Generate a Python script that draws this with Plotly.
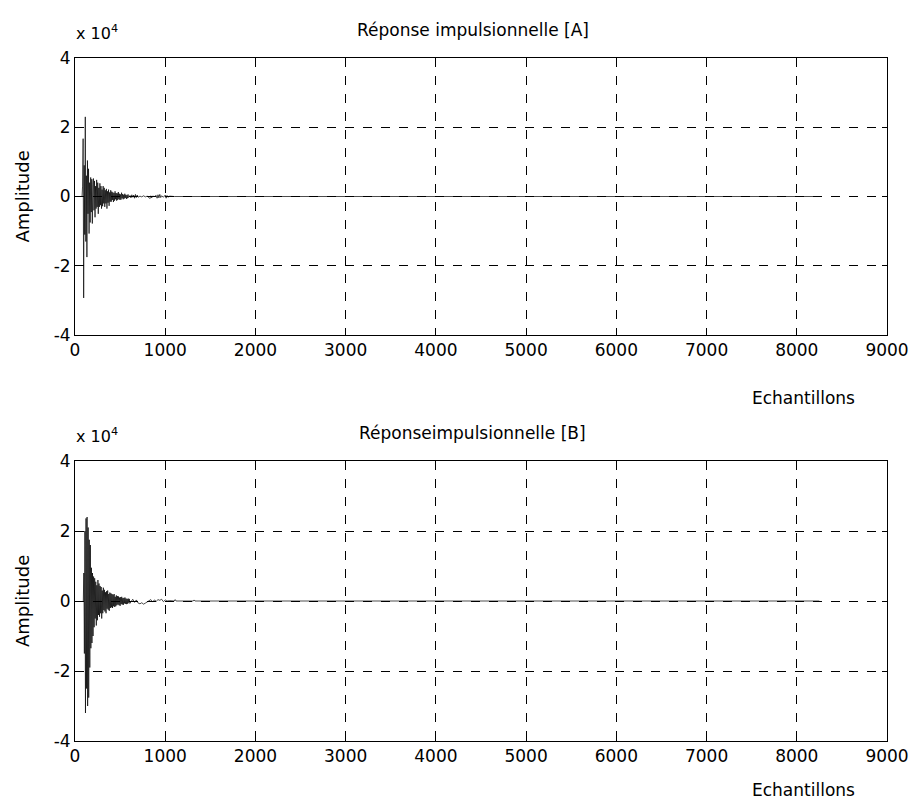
import plotly.graph_objects as go

# ---------------- data (amplitudes in units of 1e4) ----------------
SCALE = 1e4

# Response A: dense part, one value every A_STEP samples starting at A_START
A_START = 78
A_STEP = 6
a_head = [
    0, 0.3, 1.67, -2.93, 0.9, -1.1, 2.3, -1.3, 0.6, -1.75, 1.04, -0.5, 0.8, -1.07,
    0.4, -0.75, 0.55, -0.45, 0.5, -0.78, 0.35,
    0.52, -0.4, 0.45, -0.6, 0.3, -0.35, 0.48, -0.3, 0.4, -0.5, 0.25, -0.3, 0.38,
    -0.25, 0.3, -0.35, 0.2, -0.28, 0.3, -0.2, 0.25, -0.3, 0.18, -0.2, 0.22, -0.35,
    0.15, -0.18, 0.2, -0.27, 0.12, -0.15, 0.18,
    -0.15, 0.14, -0.1, 0.12, -0.16, 0.1, -0.12, 0.15, -0.08, 0.1, -0.12, 0.09, -0.1,
    0.13, -0.07, 0.08, -0.1, 0.06, -0.09, 0.11, -0.05, 0.07, -0.08, 0.05, -0.06,
    0.08, -0.04, 0.05, -0.07, 0.04, -0.05, 0.06, -0.03,
]
a_tail_samples = [610, 620, 630, 640, 650, 660, 670, 680, 690, 700, 720, 740, 760,
                  780, 800, 820, 830, 840, 850, 860, 880, 900, 910, 920, 930, 940,
                  950, 960, 980, 1000, 1010, 1020, 1030, 1050, 1080, 1100, 8260]
a_tail_values = [0.03, -0.04, 0.05, -0.02, 0.04, -0.05, 0.06, -0.03, 0.04, -0.02,
                 0.01, -0.01, 0.02, -0.01, 0.01, -0.03, -0.06, 0.02, -0.04, 0.01,
                 0.0, 0.03, -0.05, 0.05, -0.04, 0.06, -0.03, 0.02, -0.02, 0.04,
                 -0.05, 0.03, -0.02, 0.01, 0.0, 0.0, 0.0]

# Response B
B_START = 92
B_STEP = 6
b_head = [
    0, 0.8, -1.5, 2.0, -3.2, 2.36, -2.5, 2.4, -3.0, 2.1, -2.76, 1.75, -1.9, 1.6,
    -1.35, 0.95, -1.2, 0.8, -1.0, 0.7, -0.75,
    0.65, -0.5, 0.55, -0.7, 0.45, -0.55, 0.6, -0.4, 0.5, -0.45, 0.43, -0.35, 0.4,
    -0.5, 0.3, -0.35, 0.38, -0.26, 0.32, -0.3, 0.25, -0.35, 0.28, -0.22, 0.3, -0.25,
    0.2, -0.28, 0.24, -0.2, 0.22, -0.18, 0.2,
    -0.2, 0.18, -0.15, 0.2, -0.17, 0.12, -0.15, 0.16, -0.12, 0.14, -0.1, 0.13, -0.12,
    0.1, -0.14, 0.11, -0.09, 0.12, -0.1, 0.08, -0.11, 0.09, -0.07, 0.1, -0.08, 0.07,
    -0.09, 0.06, -0.08, 0.07, -0.05, 0.06, -0.07,
]
b_tail_samples = [640, 660, 680, 700, 720, 740, 760, 780, 800, 820, 840, 860, 880,
                  900, 920, 940, 960, 980, 1000, 1020, 1050, 1100, 1110, 1120, 1200,
                  1310, 1320, 1330, 8250]
b_tail_values = [0.05, -0.04, 0.03, -0.06, -0.08, -0.05, -0.09, -0.06, -0.02, 0.02,
                 0.04, -0.03, 0.03, -0.01, 0.04, 0.02, 0.05, -0.02, 0.03, 0.0, 0.01,
                 0.0, 0.04, 0.0, 0.0, 0.0, 0.03, 0.0, 0.0]

titles = ["Réponse impulsionnelle [A]", "Réponseimpulsionnelle [B]"]
x_ticks = [0, 1000, 2000, 3000, 4000, 5000, 6000, 7000, 8000, 9000]
y_ticks = [-4, -2, 0, 2, 4]
x_label = "Echantillons"
y_label = "Amplitude"


def build(start, step, head, tail_s, tail_v):
    xs = [start + i * step for i in range(len(head))] + list(tail_s)
    ys = [v * SCALE for v in list(head) + list(tail_v)]
    return xs, ys


ax, ay = build(A_START, A_STEP, a_head, a_tail_samples, a_tail_values)
bx, by = build(B_START, B_STEP, b_head, b_tail_samples, b_tail_values)

# ---------------- layout ----------------
W, H = 914, 803
FONT = "DejaVu Sans, Liberation Sans, Arial, sans-serif"
x_dom = [75 / W, 887 / W]
doms = [[1 - 335 / H, 1 - 58 / H], [1 - 741 / H, 1 - 461 / H]]

fig = go.Figure()
fig.add_trace(go.Scatter(x=ax, y=ay, mode="lines", line=dict(color="black", width=0.7),
                         xaxis="x", yaxis="y", showlegend=False, hoverinfo="skip"))
fig.add_trace(go.Scatter(x=bx, y=by, mode="lines", line=dict(color="black", width=0.7),
                         xaxis="x2", yaxis="y2", showlegend=False, hoverinfo="skip"))

axis_common = dict(
    showline=True, linecolor="black", linewidth=1, mirror="allticks",
    ticks="inside", ticklen=5, tickcolor="black", tickwidth=1,
    showgrid=True, gridcolor="black", gridwidth=1, griddash="dash",
    zeroline=False, automargin=False,
    tickfont=dict(family=FONT, size=17, color="black"),
)

for i, (xa, ya) in enumerate([("xaxis", "yaxis"), ("xaxis2", "yaxis2")]):
    yref = "y" if i == 0 else "y2"
    xref = "x" if i == 0 else "x2"
    fig.update_layout(**{
        xa: dict(domain=x_dom, range=[0, 9000], tickvals=x_ticks,
                 ticktext=[str(t) for t in x_ticks], anchor=yref, **axis_common),
        ya: dict(domain=doms[i], range=[-4 * SCALE, 4 * SCALE],
                 tickvals=[t * SCALE for t in y_ticks],
                 ticktext=[str(t) for t in y_ticks], anchor=xref, **axis_common),
    })

xlabel_px = [398, 790]
annots = []
for i in range(2):
    top_px = 58 if i == 0 else 461
    bot_px = 335 if i == 0 else 741
    # title
    annots.append(dict(text=titles[i], x=473 / W, y=1 - (top_px - 28) / H,
                       xref="paper", yref="paper", showarrow=False,
                       xanchor="center", yanchor="middle",
                       font=dict(family=FONT, size=17, color="black")))
    # exponent
    annots.append(dict(text="x 10<sup>4</sup>", x=74 / W, y=1 - (top_px - 25) / H,
                       xref="paper", yref="paper", showarrow=False,
                       xanchor="left", yanchor="middle",
                       font=dict(family=FONT, size=16, color="black")))
    # x label
    annots.append(dict(text=x_label, x=803 / W, y=1 - xlabel_px[i] / H,
                       xref="paper", yref="paper", showarrow=False,
                       xanchor="center", yanchor="middle",
                       font=dict(family=FONT, size=17, color="black")))
    # y label
    annots.append(dict(text=y_label, x=22 / W, y=1 - ((top_px + bot_px) / 2) / H,
                       xref="paper", yref="paper", showarrow=False, textangle=-90,
                       xanchor="center", yanchor="middle",
                       font=dict(family=FONT, size=18, color="black")))

fig.update_layout(
    width=W, height=H, margin=dict(l=0, r=0, t=0, b=0, autoexpand=False),
    paper_bgcolor="white", plot_bgcolor="white",
    annotations=annots, showlegend=False,
)

fig.write_html("out.html")
